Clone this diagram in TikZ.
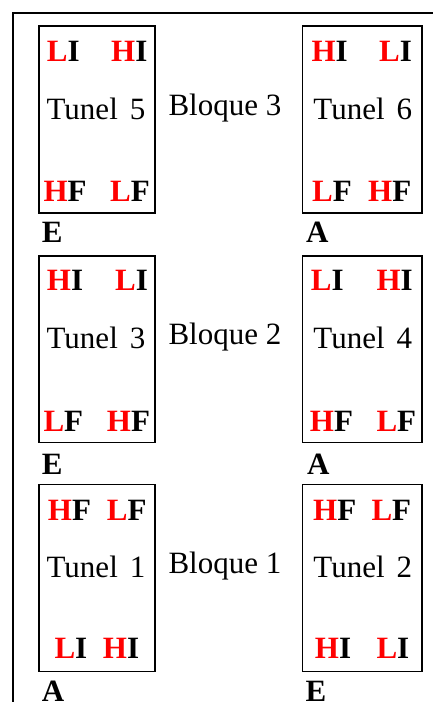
\documentclass[tikz,border=0pt]{standalone}
\usepackage{fontspec}
\setmainfont{Liberation Serif}
\newcommand{\rd}[1]{\textcolor{red}{#1}}
\begin{document}
\begin{tikzpicture}[x=1pt,y=-1pt,
  frame/.style={line width=2pt},
  tunnelbox/.style={draw,line width=1.6pt,inner sep=0pt,anchor=north west},
  tag/.style={inner sep=0pt,anchor=base west,font=\fontsize{31}{36}\selectfont\bfseries},
  body/.style={inner sep=0pt,anchor=base,font=\fontsize{31}{36}\selectfont},
  blocklabel/.style={inner sep=0pt,anchor=base west,font=\fontsize{31}{36}\selectfont},
]
\useasboundingbox (0,0) rectangle (433,702);
\clip (0,0) rectangle (433,702);

% outer frame (left and top edges)
\draw[frame] (13,720) -- (13,13) -- (460,13);

% ---------- Bloque 3 ----------
\node[tunnelbox,minimum width=116.3pt,minimum height=187pt] (t5) at (38,25.3) {};
\node[tunnelbox,minimum width=119.6pt,minimum height=187pt] (t6) at (301.7,25.3) {};
\node[blocklabel] (b3) at (168.3,115) {Bloque 3};

\node[tag] (t5a) at (46.7,61) {\rd{L}I};
\node[tag] (t5b) at (111,61) {\rd{H}I};
\node[body] (t5n) at (96,119) {Tunel\hspace{12pt}5};
\node[tag] (t5c) at (43.3,201.5) {\rd{H}F};
\node[tag] (t5d) at (110,201.5) {\rd{L}F};
\node[tag] (t5e) at (41.7,242) {E};

\node[tag] (t6a) at (311.3,61) {\rd{H}I};
\node[tag] (t6b) at (379,61) {\rd{L}I};
\node[body] (t6n) at (362.8,119) {Tunel\hspace{12pt}6};
\node[tag] (t6c) at (312,201.5) {\rd{L}F};
\node[tag] (t6d) at (368,201.5) {\rd{H}F};
\node[tag] (t6e) at (306,242) {A};

% ---------- Bloque 2 ----------
\node[tunnelbox,minimum width=116.3pt,minimum height=186.7pt] (t3) at (38,255) {};
\node[tunnelbox,minimum width=119.6pt,minimum height=186.7pt] (t4) at (301.7,255) {};
\node[blocklabel] (b2) at (168.3,344) {Bloque 2};

\node[tag] (t3a) at (46.7,290) {\rd{H}I};
\node[tag] (t3b) at (115,290) {\rd{L}I};
\node[body] (t3n) at (96,348.3) {Tunel\hspace{12pt}3};
\node[tag] (t3c) at (43.3,431) {\rd{L}F};
\node[tag] (t3d) at (106.7,431) {\rd{H}F};
\node[tag] (t3e) at (41.7,474) {E};

\node[tag] (t4a) at (310.7,290) {\rd{L}I};
\node[tag] (t4b) at (376.3,290) {\rd{H}I};
\node[body] (t4n) at (362.8,348.3) {Tunel\hspace{12pt}4};
\node[tag] (t4c) at (309.7,431) {\rd{H}F};
\node[tag] (t4d) at (376.3,431) {\rd{L}F};
\node[tag] (t4e) at (307,474) {A};

% ---------- Bloque 1 ----------
\node[tunnelbox,minimum width=116.3pt,minimum height=187pt] (t1) at (38,483.7) {};
\node[tunnelbox,minimum width=119.6pt,minimum height=187pt] (t2) at (301.7,483.7) {};
\node[blocklabel] (b1) at (168.3,573) {Bloque 1};

\node[tag] (t1a) at (47.7,520) {\rd{H}F};
\node[tag] (t1b) at (106.7,520) {\rd{L}F};
\node[body] (t1n) at (96,577.3) {Tunel\hspace{12pt}1};
\node[tag] (t1c) at (54.3,658.3) {\rd{L}I};
\node[tag] (t1d) at (102.7,658.3) {\rd{H}I};
\node[tag] (t1e) at (41.7,701.3) {A};

\node[tag] (t2a) at (313,520) {\rd{H}F};
\node[tag] (t2b) at (371.3,520) {\rd{L}F};
\node[body] (t2n) at (362.8,577.3) {Tunel\hspace{12pt}2};
\node[tag] (t2c) at (314.7,658.3) {\rd{H}I};
\node[tag] (t2d) at (376.3,658.3) {\rd{L}I};
\node[tag] (t2e) at (305.3,701.3) {E};
\end{tikzpicture}
\end{document}
